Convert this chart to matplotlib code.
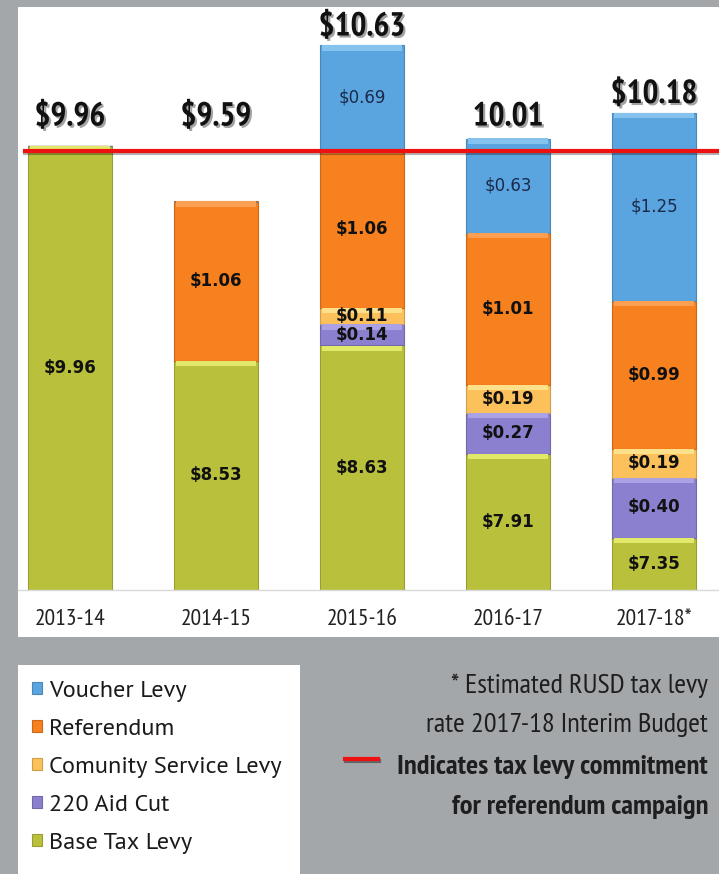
import matplotlib
matplotlib.use("Agg")
import matplotlib.pyplot as plt
import matplotlib.patheffects as pe
from matplotlib.patches import Rectangle
from matplotlib.lines import Line2D
import numpy as np

years = ["2013-14", "2014-15", "2015-16", "2016-17", "2017-18*"]
base_tax = [9.96, 8.53, 8.63, 7.91, 7.35]
aid_cut = [0.00, 0.00, 0.14, 0.27, 0.40]
community = [0.00, 0.00, 0.11, 0.19, 0.19]
referendum = [0.00, 1.06, 1.06, 1.01, 0.99]
voucher = [0.00, 0.00, 0.69, 0.63, 1.25]
total_labels = ["$9.96", "$9.59", "$10.63", "10.01", "$10.18"]
commitment = 9.93

series = [
    ("Base Tax Levy", base_tax, "#b9c13c", "#e2e86a", True, "#111111"),
    ("220 Aid Cut", aid_cut, "#8a80cf", "#aaa2e4", True, "#111111"),
    ("Comunity Service Levy", community, "#fcc15a", "#fde08a", True, "#111111"),
    ("Referendum", referendum, "#f7801f", "#fba052", True, "#111111"),
    ("Voucher Levy", voucher, "#5aa5e0", "#86c2ee", False, "#1b2a4a"),
]

W, H = 719, 874
fig = plt.figure(figsize=(W / 100, H / 100), dpi=100)
fig.patch.set_facecolor("#a4a7aa")

fig.patches.append(Rectangle((18 / W, 1 - 637 / H), 1 - 18 / W, (637 - 7) / H,
                             transform=fig.transFigure, facecolor="white",
                             edgecolor="none", zorder=-5))
fig.patches.append(Rectangle((18 / W, 0), (300 - 18) / W, 1 - 665 / H,
                             transform=fig.transFigure, facecolor="white",
                             edgecolor="none", zorder=-5))

ax = fig.add_axes([18 / W, 1 - 590 / H, 701 / W, 583 / H])
ax.patch.set_alpha(0)
x = np.arange(len(years))
width = 0.57
ymin = 7.0
bottom = np.full(len(years), ymin)
cond = ["PT Sans Narrow", "DejaVu Sans"]
seg_font = ["DejaVu Sans"]

handles = []
for name, vals, col, light, bold, tcol in series:
    vals = np.array(vals)
    b = bottom.copy()
    h = vals - ymin if name == "Base Tax Levy" else vals
    edge = tuple(c * 0.82 for c in matplotlib.colors.to_rgb(col))
    bars = ax.bar(x, h, width, bottom=b, color=col, edgecolor=edge,
                  linewidth=0.8, label=name, zorder=2)
    strip = np.where(h > 0, np.minimum(0.035, h * 0.3), 0)
    ax.bar(x, strip, width * 0.965, bottom=b + h - strip, color=light,
           edgecolor="none", zorder=3)
    handles.append(bars)
    for i in range(len(years)):
        if vals[i] > 0:
            ax.text(x[i], b[i] + h[i] / 2, f"${vals[i]:.2f}", ha="center", va="center",
                    fontsize=12, fontweight="bold" if bold else "normal",
                    color=tcol, family=seg_font, zorder=5)
    bottom = b + h

totals = bottom
shadow = [pe.SimplePatchShadow(offset=(1.5, -1.5), shadow_rgbFace="#666666", alpha=0.6), pe.Normal()]
for i, lab in enumerate(total_labels):
    ytxt = max(totals[i] + 0.12, 10.15)
    ax.text(x[i], ytxt, lab, ha="center", va="center", fontsize=24, fontweight="bold",
            family=cond, color="#111111", path_effects=shadow, zorder=6)

ax.axhline(commitment, xmin=0.01, xmax=1, color="#ee1111", lw=3, zorder=7,
           path_effects=[pe.SimpleLineShadow(offset=(0, -1.5), alpha=0.3), pe.Normal()])

ax.set_xlim(-(70 - 18) / 146, (719 - 70) / 146)
ax.set_ylim(ymin, ymin + 583 / 150)
ax.set_xticks(x)
ax.set_xticklabels(years, fontsize=17, family=cond, color="#222222")
ax.set_yticks([])
ax.tick_params(axis="x", length=0, pad=14)
for s in ["top", "left", "right"]:
    ax.spines[s].set_visible(False)
ax.spines["bottom"].set_color("#d9d9d9")
ax.spines["bottom"].set_linewidth(1)

leg = fig.legend(handles[::-1], [s[0] for s in series][::-1],
                 loc="upper left", bbox_to_anchor=(22 / W, 1 - 671 / H),
                 frameon=False, handlelength=0.42, handleheight=0.42,
                 handletextpad=0.3, labelspacing=0.7, borderaxespad=0,
                 prop={"family": ["PT Sans", "DejaVu Sans"], "size": 17.5})
for t in leg.get_texts():
    t.set_color("#1a1a1a")

notes = [
    ("* Estimated RUSD tax levy", 686, "normal"),
    ("rate 2017-18 Interim Budget", 725, "normal"),
    ("Indicates tax levy commitment", 767, "bold"),
    ("for referendum campaign", 807, "bold"),
]
for txt, yy, wt in notes:
    fig.text(708 / W, 1 - yy / H, txt, ha="right", va="center", fontsize=20.5,
             fontweight=wt, family=cond, color="#1e1e1e")
fig.lines.append(Line2D([345 / W, 378 / W], [1 - 759 / H, 1 - 759 / H],
                        transform=fig.transFigure, color="#ee1111", lw=3,
                        path_effects=[pe.SimpleLineShadow(offset=(1, -1.5), alpha=0.4), pe.Normal()]))

fig.savefig("out.png", dpi=100, facecolor=fig.get_facecolor())
